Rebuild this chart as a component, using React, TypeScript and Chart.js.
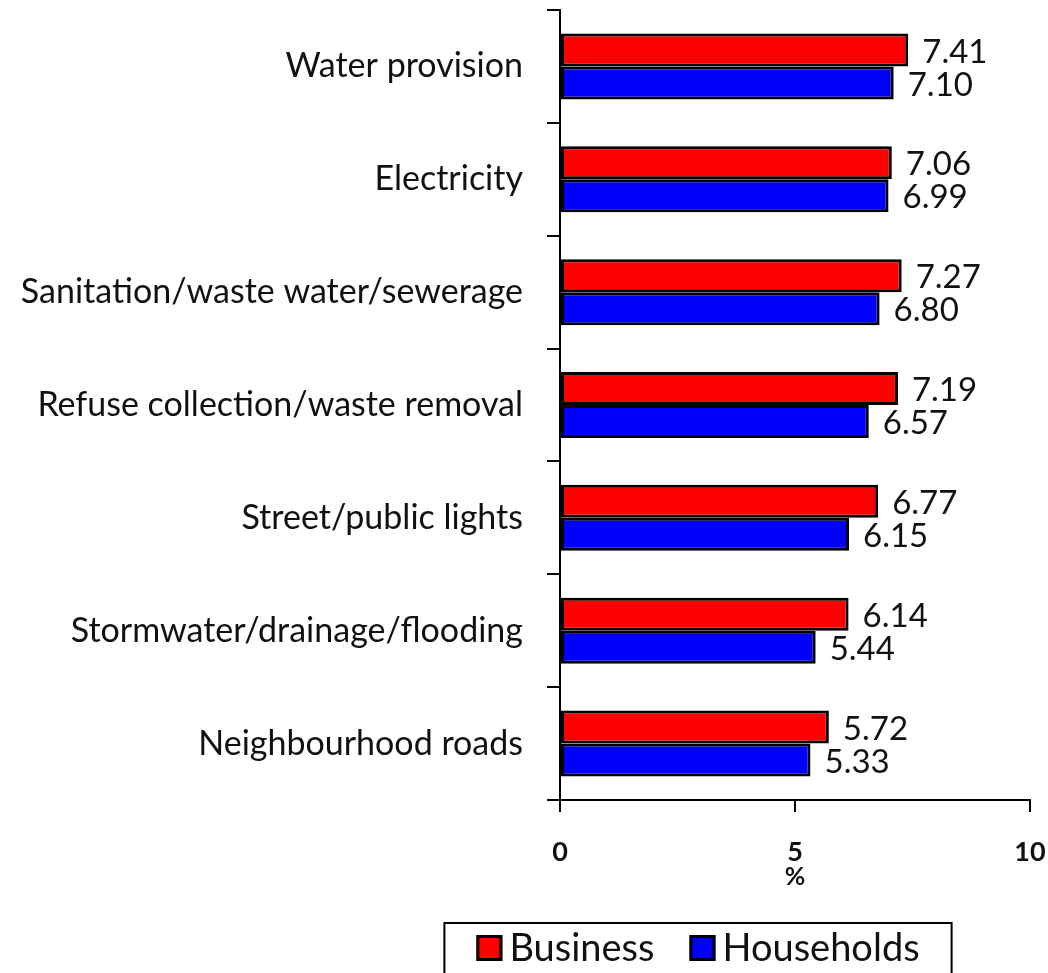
import React, { useEffect, useRef } from "react";
import { Chart, registerables } from "chart.js";

Chart.register(...registerables);

const categories = [
  "Water provision",
  "Electricity",
  "Sanitation/waste water/sewerage",
  "Refuse collection/waste removal",
  "Street/public lights",
  "Stormwater/drainage/flooding",
  "Neighbourhood roads",
];
const business = [7.41, 7.06, 7.27, 7.19, 6.77, 6.14, 5.72];
const households = [7.1, 6.99, 6.8, 6.57, 6.15, 5.44, 5.33];
const seriesNames = ["Business", "Households"];
const seriesColors = ["#ff0000", "#0000ff"];
const xTicks = [0, 5, 10];
const xTitle = "%";

const FONT = "Lato, 'Open Sans', 'DejaVu Sans', sans-serif";
const TEXT = "#111111";

const valueLabels = {
  id: "valueLabels",
  afterDatasetsDraw(chart: any) {
    const ctx = chart.ctx;
    ctx.save();
    ctx.fillStyle = TEXT;
    ctx.font = `33px ${FONT}`;
    ctx.textAlign = "left";
    ctx.textBaseline = "middle";
    chart.data.datasets.forEach((ds: any, di: number) => {
      const meta = chart.getDatasetMeta(di);
      meta.data.forEach((el: any, i: number) => {
        const v = ds.data[i] as number;
        ctx.fillText(v.toFixed(2), el.x + 14, el.y + 2);
      });
    });
    ctx.restore();
  },
};

const boxLegend = {
  id: "boxLegend",
  afterDraw(chart: any) {
    const ctx = chart.ctx;
    const xs = chart.scales.x;
    ctx.save();
    ctx.font = `38px ${FONT}`;
    const sw = 26;
    const gapAfterSwatch = 7;
    const gapBetween = 35;
    const widths = seriesNames.map((n) => ctx.measureText(n).width);
    let total = 0;
    widths.forEach((w, i) => {
      total += sw + gapAfterSwatch + w + (i < widths.length - 1 ? gapBetween : 0);
    });
    const padX = 32;
    const boxW = total + padX * 2;
    const cx = (xs.left + xs.right) / 2 - 97;
    const boxL = cx - boxW / 2;
    const boxT = xs.top + 123;
    ctx.strokeStyle = "#000";
    ctx.lineWidth = 2;
    ctx.strokeRect(boxL, boxT, boxW, 80);
    let x = boxL + padX;
    const cy = boxT + 25;
    seriesNames.forEach((n, i) => {
      ctx.fillStyle = seriesColors[i];
      ctx.fillRect(x, cy - sw / 2, sw, sw);
      ctx.strokeStyle = "#000";
      ctx.lineWidth = 3;
      ctx.strokeRect(x + 1.5, cy - sw / 2 + 1.5, sw - 3, sw - 3);
      x += sw + gapAfterSwatch;
      ctx.fillStyle = TEXT;
      ctx.textAlign = "left";
      ctx.textBaseline = "middle";
      ctx.fillText(n, x, cy + 1);
      x += widths[i] + gapBetween;
    });
    ctx.restore();
  },
};

export default function App() {
  const ref = useRef<HTMLCanvasElement | null>(null);
  useEffect(() => {
    if (!ref.current) return;
    const chart = new Chart(ref.current, {
      type: "bar",
      data: {
        labels: categories,
        datasets: [
          {
            label: seriesNames[0],
            data: business,
            backgroundColor: seriesColors[0],
            borderColor: "#000",
            borderWidth: 3,
            borderSkipped: false,
          },
          {
            label: seriesNames[1],
            data: households,
            backgroundColor: seriesColors[1],
            borderColor: "#000",
            borderWidth: 3,
            borderSkipped: false,
          },
        ],
      },
      options: {
        indexAxis: "y",
        animation: false,
        responsive: false,
        maintainAspectRatio: false,
        categoryPercentage: 0.585,
        barPercentage: 1.0,
        layout: { padding: { top: 10, right: 18, bottom: 0, left: 0 } },
        plugins: { legend: { display: false }, tooltip: { enabled: false } },
        scales: {
          y: {
            type: "category",
            offset: true,
            afterFit(scale: any) {
              scale.width = 560;
              scale.paddingTop = 0;
              scale.paddingBottom = 0;
            },
            border: { display: true, color: "#000", width: 2 },
            grid: {
              offset: true,
              drawOnChartArea: false,
              drawTicks: true,
              tickLength: 13,
              color: "#000",
              lineWidth: 2,
            },
            ticks: {
              color: TEXT,
              padding: 24,
              font: { family: FONT, size: 34 },
            },
          },
          x: {
            type: "linear",
            min: 0,
            max: 10,
            afterFit(scale: any) {
              scale.height = 173;
              scale.paddingLeft = 0;
              scale.paddingRight = 0;
            },
            afterBuildTicks(scale: any) {
              scale.ticks = xTicks.map((v) => ({ value: v }));
            },
            border: { display: true, color: "#000", width: 2 },
            grid: {
              drawOnChartArea: false,
              drawTicks: true,
              tickLength: 12,
              color: "#000",
              lineWidth: 2,
            },
            ticks: {
              color: TEXT,
              padding: 24,
              font: { family: FONT, size: 27, weight: "bold" },
            },
            title: {
              display: true,
              text: xTitle,
              color: TEXT,
              font: { family: FONT, size: 25, weight: "bold" },
              padding: { top: 0, bottom: 81 },
            },
          },
        },
      },
      plugins: [valueLabels, boxLegend],
    });
    return () => chart.destroy();
  }, []);
  return (
    <div style={{ position: "absolute", left: 0, top: 0, width: 1048, height: 973, background: "#fff" }}>
      <canvas ref={ref} width={1048} height={973} style={{ width: 1048, height: 973 }} />
    </div>
  );
}
